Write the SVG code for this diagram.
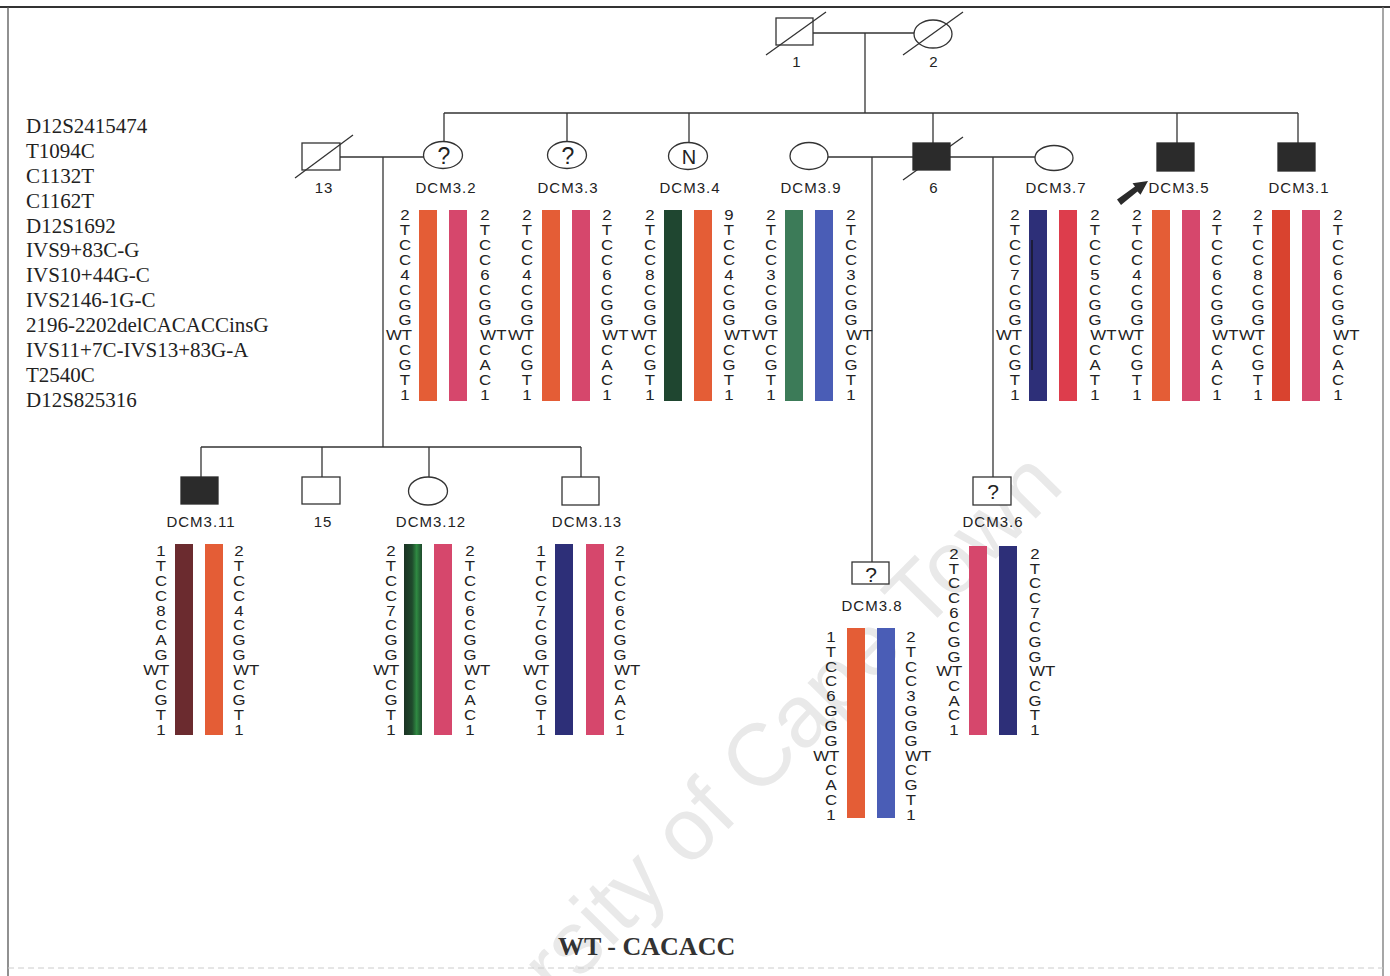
<svg xmlns="http://www.w3.org/2000/svg" width="1390" height="976" viewBox="0 0 1390 976">
<defs>
<style>
.ln{stroke:#333;stroke-width:1.3;fill:none}
.sym{fill:#fff;stroke:#333;stroke-width:1.3}
.aff{fill:#2b2b2b;stroke:#2b2b2b;stroke-width:1.3}
.lbl{font-family:"Liberation Sans",Arial,sans-serif;font-size:15px;fill:#222;text-anchor:middle;letter-spacing:1px}
.q{font-family:"Liberation Sans",Arial,sans-serif;font-size:23px;fill:#222;text-anchor:middle}
.h{font-family:"Liberation Sans",Arial,sans-serif;font-size:14px;fill:#222;text-anchor:middle}
.mk{font-family:"Liberation Serif","Times New Roman",serif;font-size:21px;fill:#222}
.wt{font-family:"Liberation Serif","Times New Roman",serif;font-size:26px;font-weight:bold;fill:#333}
.wm{font-family:"Liberation Sans",Arial,sans-serif;font-size:88px;fill:#e9e9e9}
.or{fill:#e45d36}.pk{fill:#d6476c}.dg{fill:#1f4630}.gr{fill:#3c7b58}.bl{fill:#4a5db6}.nv{fill:#2d2f78}.rd{fill:#dd3d4c}.ro{fill:#d9432f}.mr{fill:#6b2b2f}
</style>
<linearGradient id="gstripe" x1="0" y1="0" x2="1" y2="0">
<stop offset="0" stop-color="#1b3324"/><stop offset="0.45" stop-color="#1f4a2c"/><stop offset="0.7" stop-color="#2f8a42"/><stop offset="1" stop-color="#1e4a2c"/>
</linearGradient>
</defs>
<rect width="1390" height="976" fill="#fff"/>
<text class="wm" transform="translate(1066,488) rotate(-45.3)" text-anchor="end">rsity of Cape Town</text>
<g id="frame">
<line x1="0" y1="7" x2="1390" y2="7" stroke="#333" stroke-width="2"/>
<line x1="8" y1="7" x2="8" y2="976" stroke="#555" stroke-width="1.3"/>
<line x1="1383" y1="7" x2="1383" y2="976" stroke="#777" stroke-width="1.3"/>
<line x1="8" y1="968" x2="1383" y2="968" stroke="#ccc" stroke-width="1" stroke-dasharray="6 4"/>
</g>
<g id="markers">
<text class="mk" x="26" y="133">D12S2415474</text>
<text class="mk" x="26" y="158">T1094C</text>
<text class="mk" x="26" y="183">C1132T</text>
<text class="mk" x="26" y="208">C1162T</text>
<text class="mk" x="26" y="233">D12S1692</text>
<text class="mk" x="26" y="257">IVS9+83C-G</text>
<text class="mk" x="26" y="282">IVS10+44G-C</text>
<text class="mk" x="26" y="307">IVS2146-1G-C</text>
<text class="mk" x="26" y="332">2196-2202delCACACCinsG</text>
<text class="mk" x="26" y="357">IVS11+7C-IVS13+83G-A</text>
<text class="mk" x="26" y="382">T2540C</text>
<text class="mk" x="26" y="407">D12S825316</text>
</g>
<g id="connectors">
<line class="ln" x1="813" y1="33" x2="914" y2="33"/>
<line class="ln" x1="865" y1="33" x2="865" y2="113"/>
<line class="ln" x1="444" y1="113" x2="1298" y2="113"/>
<line class="ln" x1="444" y1="113" x2="444" y2="142"/>
<line class="ln" x1="567" y1="113" x2="567" y2="142"/>
<line class="ln" x1="689" y1="113" x2="689" y2="143"/>
<line class="ln" x1="933" y1="113" x2="933" y2="143"/>
<line class="ln" x1="1177" y1="113" x2="1177" y2="143"/>
<line class="ln" x1="1298" y1="113" x2="1298" y2="143"/>
<line class="ln" x1="340" y1="157" x2="424" y2="157"/>
<line class="ln" x1="383" y1="157" x2="383" y2="447"/>
<line class="ln" x1="828" y1="157" x2="913" y2="157"/>
<line class="ln" x1="872" y1="157" x2="872" y2="562"/>
<line class="ln" x1="950" y1="157" x2="1035" y2="157"/>
<line class="ln" x1="993" y1="157" x2="993" y2="477"/>
<line class="ln" x1="201" y1="447" x2="581" y2="447"/>
<line class="ln" x1="201" y1="447" x2="201" y2="477"/>
<line class="ln" x1="322" y1="447" x2="322" y2="477"/>
<line class="ln" x1="429" y1="447" x2="429" y2="477"/>
<line class="ln" x1="581" y1="447" x2="581" y2="477"/>
<polygon points="1117,199.5 1121,205 1137.5,191.5 1140.5,194.7 1148,181 1132.5,183.3 1135,186.5" fill="#2b2b2b"/>
</g>
<g id="n1">
<rect class="sym" x="776" y="18" width="37" height="27"/>
<line class="ln" x1="766" y1="55" x2="826" y2="12"/>
<text class="lbl" x="797" y="67">1</text>
</g>
<g id="n2">
<ellipse class="sym" cx="933" cy="34" rx="19" ry="14"/>
<line class="ln" x1="903" y1="55" x2="963" y2="12"/>
<text class="lbl" x="934" y="67">2</text>
</g>
<g id="n13">
<rect class="sym" x="302" y="143" width="38" height="27"/>
<line class="ln" x1="295" y1="178" x2="353" y2="135"/>
<text class="lbl" x="324" y="193">13</text>
</g>
<g id="nDCM3_2">
<ellipse class="sym" cx="443" cy="155" rx="19.5" ry="13.5"/>
<text class="q" x="444" y="164">?</text>
<text class="lbl" x="446" y="193">DCM3.2</text>
<rect class="or" x="419" y="210" width="18" height="191"/><rect class="pk" x="449" y="210" width="18" height="191"/>
<text class="h" transform="translate(405,220) scale(1.2,1)"><tspan x="0" y="0">2</tspan><tspan x="0" dy="15">T</tspan><tspan x="0" dy="15">C</tspan><tspan x="0" dy="15">C</tspan><tspan x="0" dy="15">4</tspan><tspan x="0" dy="15">C</tspan><tspan x="0" dy="15">G</tspan><tspan x="0" dy="15">G</tspan><tspan x="-5" dy="15">WT</tspan><tspan x="0" dy="15">C</tspan><tspan x="0" dy="15">G</tspan><tspan x="0" dy="15">T</tspan><tspan x="0" dy="15">1</tspan></text>
<text class="h" transform="translate(485,220) scale(1.2,1)"><tspan x="0" y="0">2</tspan><tspan x="0" dy="15">T</tspan><tspan x="0" dy="15">C</tspan><tspan x="0" dy="15">C</tspan><tspan x="0" dy="15">6</tspan><tspan x="0" dy="15">C</tspan><tspan x="0" dy="15">G</tspan><tspan x="0" dy="15">G</tspan><tspan x="7" dy="15">WT</tspan><tspan x="0" dy="15">C</tspan><tspan x="0" dy="15">A</tspan><tspan x="0" dy="15">C</tspan><tspan x="0" dy="15">1</tspan></text>
</g>
<g id="nDCM3_3">
<ellipse class="sym" cx="567" cy="155" rx="19.5" ry="13.5"/>
<text class="q" x="568" y="164">?</text>
<text class="lbl" x="568" y="193">DCM3.3</text>
<rect class="or" x="542" y="210" width="18" height="191"/><rect class="pk" x="572" y="210" width="18" height="191"/>
<text class="h" transform="translate(527,220) scale(1.2,1)"><tspan x="0" y="0">2</tspan><tspan x="0" dy="15">T</tspan><tspan x="0" dy="15">C</tspan><tspan x="0" dy="15">C</tspan><tspan x="0" dy="15">4</tspan><tspan x="0" dy="15">C</tspan><tspan x="0" dy="15">G</tspan><tspan x="0" dy="15">G</tspan><tspan x="-5" dy="15">WT</tspan><tspan x="0" dy="15">C</tspan><tspan x="0" dy="15">G</tspan><tspan x="0" dy="15">T</tspan><tspan x="0" dy="15">1</tspan></text>
<text class="h" transform="translate(607,220) scale(1.2,1)"><tspan x="0" y="0">2</tspan><tspan x="0" dy="15">T</tspan><tspan x="0" dy="15">C</tspan><tspan x="0" dy="15">C</tspan><tspan x="0" dy="15">6</tspan><tspan x="0" dy="15">C</tspan><tspan x="0" dy="15">G</tspan><tspan x="0" dy="15">G</tspan><tspan x="7" dy="15">WT</tspan><tspan x="0" dy="15">C</tspan><tspan x="0" dy="15">A</tspan><tspan x="0" dy="15">C</tspan><tspan x="0" dy="15">1</tspan></text>
</g>
<g id="nDCM3_4">
<ellipse class="sym" cx="688" cy="156" rx="19.5" ry="13.5"/>
<text class="q" x="689" y="164" style="font-size:20px">N</text>
<text class="lbl" x="690" y="193">DCM3.4</text>
<rect class="dg" x="664" y="210" width="18" height="191"/><rect class="or" x="694" y="210" width="18" height="191"/>
<text class="h" transform="translate(650,220) scale(1.2,1)"><tspan x="0" y="0">2</tspan><tspan x="0" dy="15">T</tspan><tspan x="0" dy="15">C</tspan><tspan x="0" dy="15">C</tspan><tspan x="0" dy="15">8</tspan><tspan x="0" dy="15">C</tspan><tspan x="0" dy="15">G</tspan><tspan x="0" dy="15">G</tspan><tspan x="-5" dy="15">WT</tspan><tspan x="0" dy="15">C</tspan><tspan x="0" dy="15">G</tspan><tspan x="0" dy="15">T</tspan><tspan x="0" dy="15">1</tspan></text>
<text class="h" transform="translate(729,220) scale(1.2,1)"><tspan x="0" y="0">9</tspan><tspan x="0" dy="15">T</tspan><tspan x="0" dy="15">C</tspan><tspan x="0" dy="15">C</tspan><tspan x="0" dy="15">4</tspan><tspan x="0" dy="15">C</tspan><tspan x="0" dy="15">G</tspan><tspan x="0" dy="15">G</tspan><tspan x="7" dy="15">WT</tspan><tspan x="0" dy="15">C</tspan><tspan x="0" dy="15">G</tspan><tspan x="0" dy="15">T</tspan><tspan x="0" dy="15">1</tspan></text>
</g>
<g id="nDCM3_9">
<ellipse class="sym" cx="809" cy="156" rx="19" ry="13.5"/>
<text class="lbl" x="811" y="193">DCM3.9</text>
<rect class="gr" x="785" y="210" width="18" height="191"/><rect class="bl" x="815" y="210" width="18" height="191"/>
<text class="h" transform="translate(771,220) scale(1.2,1)"><tspan x="0" y="0">2</tspan><tspan x="0" dy="15">T</tspan><tspan x="0" dy="15">C</tspan><tspan x="0" dy="15">C</tspan><tspan x="0" dy="15">3</tspan><tspan x="0" dy="15">C</tspan><tspan x="0" dy="15">G</tspan><tspan x="0" dy="15">G</tspan><tspan x="-5" dy="15">WT</tspan><tspan x="0" dy="15">C</tspan><tspan x="0" dy="15">G</tspan><tspan x="0" dy="15">T</tspan><tspan x="0" dy="15">1</tspan></text>
<text class="h" transform="translate(851,220) scale(1.2,1)"><tspan x="0" y="0">2</tspan><tspan x="0" dy="15">T</tspan><tspan x="0" dy="15">C</tspan><tspan x="0" dy="15">C</tspan><tspan x="0" dy="15">3</tspan><tspan x="0" dy="15">C</tspan><tspan x="0" dy="15">G</tspan><tspan x="0" dy="15">G</tspan><tspan x="7" dy="15">WT</tspan><tspan x="0" dy="15">C</tspan><tspan x="0" dy="15">G</tspan><tspan x="0" dy="15">T</tspan><tspan x="0" dy="15">1</tspan></text>
</g>
<g id="n6">
<line class="ln" x1="903" y1="180" x2="963" y2="137"/>
<rect class="aff" x="913" y="143" width="37" height="27"/>
<text class="lbl" x="934" y="193">6</text>
</g>
<g id="nDCM3_7">
<ellipse class="sym" cx="1054" cy="158" rx="19" ry="12.5"/>
<text class="lbl" x="1056" y="193">DCM3.7</text>
<rect class="nv" x="1029" y="210" width="18" height="191"/><rect class="rd" x="1059" y="210" width="18" height="191"/>
<line x1="1032" y1="240" x2="1032" y2="370" stroke="#111" stroke-width="1.2"/>
<text class="h" transform="translate(1015,220) scale(1.2,1)"><tspan x="0" y="0">2</tspan><tspan x="0" dy="15">T</tspan><tspan x="0" dy="15">C</tspan><tspan x="0" dy="15">C</tspan><tspan x="0" dy="15">7</tspan><tspan x="0" dy="15">C</tspan><tspan x="0" dy="15">G</tspan><tspan x="0" dy="15">G</tspan><tspan x="-5" dy="15">WT</tspan><tspan x="0" dy="15">C</tspan><tspan x="0" dy="15">G</tspan><tspan x="0" dy="15">T</tspan><tspan x="0" dy="15">1</tspan></text>
<text class="h" transform="translate(1095,220) scale(1.2,1)"><tspan x="0" y="0">2</tspan><tspan x="0" dy="15">T</tspan><tspan x="0" dy="15">C</tspan><tspan x="0" dy="15">C</tspan><tspan x="0" dy="15">5</tspan><tspan x="0" dy="15">C</tspan><tspan x="0" dy="15">G</tspan><tspan x="0" dy="15">G</tspan><tspan x="7" dy="15">WT</tspan><tspan x="0" dy="15">C</tspan><tspan x="0" dy="15">A</tspan><tspan x="0" dy="15">T</tspan><tspan x="0" dy="15">1</tspan></text>
</g>
<g id="nDCM3_5">
<rect class="aff" x="1157" y="143" width="37" height="28"/>
<text class="lbl" x="1179" y="193">DCM3.5</text>
<rect class="or" x="1152" y="210" width="18" height="191"/><rect class="pk" x="1182" y="210" width="18" height="191"/>
<text class="h" transform="translate(1137,220) scale(1.2,1)"><tspan x="0" y="0">2</tspan><tspan x="0" dy="15">T</tspan><tspan x="0" dy="15">C</tspan><tspan x="0" dy="15">C</tspan><tspan x="0" dy="15">4</tspan><tspan x="0" dy="15">C</tspan><tspan x="0" dy="15">G</tspan><tspan x="0" dy="15">G</tspan><tspan x="-5" dy="15">WT</tspan><tspan x="0" dy="15">C</tspan><tspan x="0" dy="15">G</tspan><tspan x="0" dy="15">T</tspan><tspan x="0" dy="15">1</tspan></text>
<text class="h" transform="translate(1217,220) scale(1.2,1)"><tspan x="0" y="0">2</tspan><tspan x="0" dy="15">T</tspan><tspan x="0" dy="15">C</tspan><tspan x="0" dy="15">C</tspan><tspan x="0" dy="15">6</tspan><tspan x="0" dy="15">C</tspan><tspan x="0" dy="15">G</tspan><tspan x="0" dy="15">G</tspan><tspan x="7" dy="15">WT</tspan><tspan x="0" dy="15">C</tspan><tspan x="0" dy="15">A</tspan><tspan x="0" dy="15">C</tspan><tspan x="0" dy="15">1</tspan></text>
</g>
<g id="nDCM3_1">
<rect class="aff" x="1278" y="143" width="37" height="28"/>
<text class="lbl" x="1299" y="193">DCM3.1</text>
<rect class="ro" x="1272" y="210" width="18" height="191"/><rect class="pk" x="1302" y="210" width="18" height="191"/>
<text class="h" transform="translate(1258,220) scale(1.2,1)"><tspan x="0" y="0">2</tspan><tspan x="0" dy="15">T</tspan><tspan x="0" dy="15">C</tspan><tspan x="0" dy="15">C</tspan><tspan x="0" dy="15">8</tspan><tspan x="0" dy="15">C</tspan><tspan x="0" dy="15">G</tspan><tspan x="0" dy="15">G</tspan><tspan x="-5" dy="15">WT</tspan><tspan x="0" dy="15">C</tspan><tspan x="0" dy="15">G</tspan><tspan x="0" dy="15">T</tspan><tspan x="0" dy="15">1</tspan></text>
<text class="h" transform="translate(1338,220) scale(1.2,1)"><tspan x="0" y="0">2</tspan><tspan x="0" dy="15">T</tspan><tspan x="0" dy="15">C</tspan><tspan x="0" dy="15">C</tspan><tspan x="0" dy="15">6</tspan><tspan x="0" dy="15">C</tspan><tspan x="0" dy="15">G</tspan><tspan x="0" dy="15">G</tspan><tspan x="7" dy="15">WT</tspan><tspan x="0" dy="15">C</tspan><tspan x="0" dy="15">A</tspan><tspan x="0" dy="15">C</tspan><tspan x="0" dy="15">1</tspan></text>
</g>
<g id="nDCM3_11">
<rect class="aff" x="181" y="477" width="37" height="27"/>
<text class="lbl" x="201" y="527">DCM3.11</text>
<rect class="mr" x="175" y="544" width="18" height="191"/><rect class="or" x="205" y="544" width="18" height="191"/>
<text class="h" transform="translate(161,556) scale(1.2,1)"><tspan x="0" y="0">1</tspan><tspan x="0" dy="14.9">T</tspan><tspan x="0" dy="14.9">C</tspan><tspan x="0" dy="14.9">C</tspan><tspan x="0" dy="14.9">8</tspan><tspan x="0" dy="14.9">C</tspan><tspan x="0" dy="14.9">A</tspan><tspan x="0" dy="14.9">G</tspan><tspan x="-4" dy="14.9">WT</tspan><tspan x="0" dy="14.9">C</tspan><tspan x="0" dy="14.9">G</tspan><tspan x="0" dy="14.9">T</tspan><tspan x="0" dy="14.9">1</tspan></text>
<text class="h" transform="translate(239,556) scale(1.2,1)"><tspan x="0" y="0">2</tspan><tspan x="0" dy="14.9">T</tspan><tspan x="0" dy="14.9">C</tspan><tspan x="0" dy="14.9">C</tspan><tspan x="0" dy="14.9">4</tspan><tspan x="0" dy="14.9">C</tspan><tspan x="0" dy="14.9">G</tspan><tspan x="0" dy="14.9">G</tspan><tspan x="6" dy="14.9">WT</tspan><tspan x="0" dy="14.9">C</tspan><tspan x="0" dy="14.9">G</tspan><tspan x="0" dy="14.9">T</tspan><tspan x="0" dy="14.9">1</tspan></text>
</g>
<g id="n15">
<rect class="sym" x="302" y="477" width="38" height="27"/>
<text class="lbl" x="323" y="527">15</text>
</g>
<g id="nDCM3_12">
<ellipse class="sym" cx="428" cy="491" rx="19.5" ry="14"/>
<text class="lbl" x="431" y="527">DCM3.12</text>
<rect fill="url(#gstripe)" x="404" y="544" width="18" height="191"/><rect class="pk" x="434" y="544" width="18" height="191"/>
<text class="h" transform="translate(391,556) scale(1.2,1)"><tspan x="0" y="0">2</tspan><tspan x="0" dy="14.9">T</tspan><tspan x="0" dy="14.9">C</tspan><tspan x="0" dy="14.9">C</tspan><tspan x="0" dy="14.9">7</tspan><tspan x="0" dy="14.9">C</tspan><tspan x="0" dy="14.9">G</tspan><tspan x="0" dy="14.9">G</tspan><tspan x="-4" dy="14.9">WT</tspan><tspan x="0" dy="14.9">C</tspan><tspan x="0" dy="14.9">G</tspan><tspan x="0" dy="14.9">T</tspan><tspan x="0" dy="14.9">1</tspan></text>
<text class="h" transform="translate(470,556) scale(1.2,1)"><tspan x="0" y="0">2</tspan><tspan x="0" dy="14.9">T</tspan><tspan x="0" dy="14.9">C</tspan><tspan x="0" dy="14.9">C</tspan><tspan x="0" dy="14.9">6</tspan><tspan x="0" dy="14.9">C</tspan><tspan x="0" dy="14.9">G</tspan><tspan x="0" dy="14.9">G</tspan><tspan x="6" dy="14.9">WT</tspan><tspan x="0" dy="14.9">C</tspan><tspan x="0" dy="14.9">A</tspan><tspan x="0" dy="14.9">C</tspan><tspan x="0" dy="14.9">1</tspan></text>
</g>
<g id="nDCM3_13">
<rect class="sym" x="562" y="477" width="37" height="28"/>
<text class="lbl" x="587" y="527">DCM3.13</text>
<rect class="nv" x="555" y="544" width="18" height="191"/><rect class="pk" x="586" y="544" width="18" height="191"/>
<text class="h" transform="translate(541,556) scale(1.2,1)"><tspan x="0" y="0">1</tspan><tspan x="0" dy="14.9">T</tspan><tspan x="0" dy="14.9">C</tspan><tspan x="0" dy="14.9">C</tspan><tspan x="0" dy="14.9">7</tspan><tspan x="0" dy="14.9">C</tspan><tspan x="0" dy="14.9">G</tspan><tspan x="0" dy="14.9">G</tspan><tspan x="-4" dy="14.9">WT</tspan><tspan x="0" dy="14.9">C</tspan><tspan x="0" dy="14.9">G</tspan><tspan x="0" dy="14.9">T</tspan><tspan x="0" dy="14.9">1</tspan></text>
<text class="h" transform="translate(620,556) scale(1.2,1)"><tspan x="0" y="0">2</tspan><tspan x="0" dy="14.9">T</tspan><tspan x="0" dy="14.9">C</tspan><tspan x="0" dy="14.9">C</tspan><tspan x="0" dy="14.9">6</tspan><tspan x="0" dy="14.9">C</tspan><tspan x="0" dy="14.9">G</tspan><tspan x="0" dy="14.9">G</tspan><tspan x="6" dy="14.9">WT</tspan><tspan x="0" dy="14.9">C</tspan><tspan x="0" dy="14.9">A</tspan><tspan x="0" dy="14.9">C</tspan><tspan x="0" dy="14.9">1</tspan></text>
</g>
<g id="nDCM3_8">
<rect class="sym" x="852" y="562" width="37" height="22"/>
<text class="q" x="871" y="582" style="font-size:21px">?</text>
<text class="lbl" x="872" y="611">DCM3.8</text>
<rect class="or" x="847" y="628" width="18" height="190"/><rect class="bl" x="877" y="628" width="18" height="190"/>
<text class="h" transform="translate(831,642) scale(1.2,1)"><tspan x="0" y="0">1</tspan><tspan x="0" dy="14.83">T</tspan><tspan x="0" dy="14.83">C</tspan><tspan x="0" dy="14.83">C</tspan><tspan x="0" dy="14.83">6</tspan><tspan x="0" dy="14.83">G</tspan><tspan x="0" dy="14.83">G</tspan><tspan x="0" dy="14.83">G</tspan><tspan x="-4" dy="14.83">WT</tspan><tspan x="0" dy="14.83">C</tspan><tspan x="0" dy="14.83">A</tspan><tspan x="0" dy="14.83">C</tspan><tspan x="0" dy="14.83">1</tspan></text>
<text class="h" transform="translate(911,642) scale(1.2,1)"><tspan x="0" y="0">2</tspan><tspan x="0" dy="14.83">T</tspan><tspan x="0" dy="14.83">C</tspan><tspan x="0" dy="14.83">C</tspan><tspan x="0" dy="14.83">3</tspan><tspan x="0" dy="14.83">G</tspan><tspan x="0" dy="14.83">G</tspan><tspan x="0" dy="14.83">G</tspan><tspan x="6" dy="14.83">WT</tspan><tspan x="0" dy="14.83">C</tspan><tspan x="0" dy="14.83">G</tspan><tspan x="0" dy="14.83">T</tspan><tspan x="0" dy="14.83">1</tspan></text>
</g>
<g id="nDCM3_6">
<rect class="sym" x="973" y="477" width="38" height="28"/>
<text class="q" x="993" y="499" style="font-size:21px">?</text>
<text class="lbl" x="993" y="527">DCM3.6</text>
<rect class="pk" x="969" y="546" width="18" height="189"/><rect class="nv" x="999" y="546" width="18" height="189"/>
<text class="h" transform="translate(954,559) scale(1.2,1)"><tspan x="0" y="0">2</tspan><tspan x="0" dy="14.67">T</tspan><tspan x="0" dy="14.67">C</tspan><tspan x="0" dy="14.67">C</tspan><tspan x="0" dy="14.67">6</tspan><tspan x="0" dy="14.67">C</tspan><tspan x="0" dy="14.67">G</tspan><tspan x="0" dy="14.67">G</tspan><tspan x="-4" dy="14.67">WT</tspan><tspan x="0" dy="14.67">C</tspan><tspan x="0" dy="14.67">A</tspan><tspan x="0" dy="14.67">C</tspan><tspan x="0" dy="14.67">1</tspan></text>
<text class="h" transform="translate(1035,559) scale(1.2,1)"><tspan x="0" y="0">2</tspan><tspan x="0" dy="14.67">T</tspan><tspan x="0" dy="14.67">C</tspan><tspan x="0" dy="14.67">C</tspan><tspan x="0" dy="14.67">7</tspan><tspan x="0" dy="14.67">C</tspan><tspan x="0" dy="14.67">G</tspan><tspan x="0" dy="14.67">G</tspan><tspan x="6" dy="14.67">WT</tspan><tspan x="0" dy="14.67">C</tspan><tspan x="0" dy="14.67">G</tspan><tspan x="0" dy="14.67">T</tspan><tspan x="0" dy="14.67">1</tspan></text>
</g>
<text class="wt" x="558" y="955">WT - CACACC</text>
</svg>
